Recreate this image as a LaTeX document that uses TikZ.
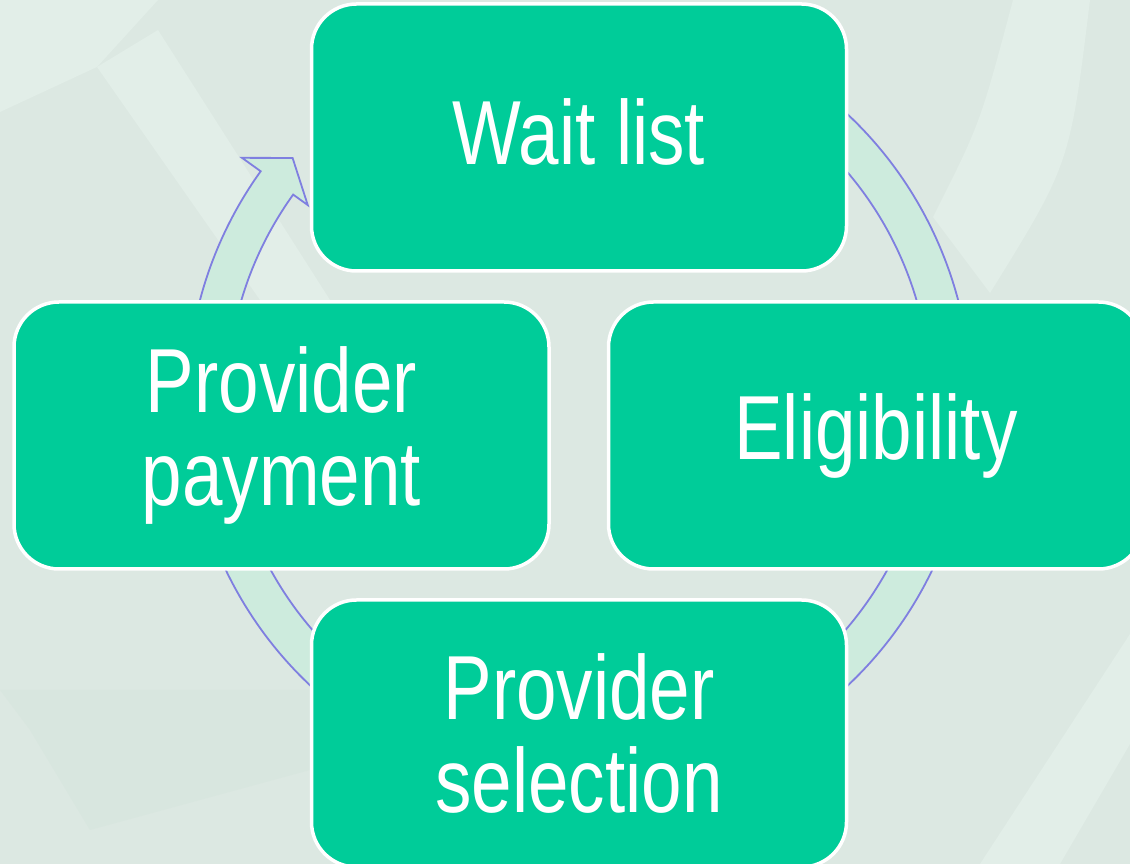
\documentclass[tikz,border=0pt]{standalone}
\usepackage{fontspec}
\setmainfont[FakeStretch=0.8]{Liberation Sans}
\usepackage{tikz}

\definecolor{backdrop}{HTML}{DCE8E2}
\definecolor{backlight}{HTML}{E2EEE8}
\definecolor{backdark}{HTML}{D8E6DF}
\definecolor{stagegreen}{HTML}{00CC99}
\definecolor{ringfill}{HTML}{CDEBDD}
\definecolor{ringline}{HTML}{7F7FE0}

\begin{document}
\begin{tikzpicture}[x=1pt, y=1pt,
	stage/.style={rectangle, rounded corners=45pt, fill=stagegreen, draw=white, line width=3.5pt, minimum width=535pt, minimum height=267pt, text=white, align=center, inner sep=0pt, font=\fontsize{91}{93}\selectfont},
	ring/.style={fill=ringfill, draw=ringline, line width=1.8pt, line join=miter}]
			\useasboundingbox (0,0) rectangle (1130,864);
			\clip (0,0) rectangle (1130,864);
			\fill[backdrop] (0,0) rectangle (1130,864);
			
			% faint backdrop pattern
			\fill[backlight] (0,864) -- (158,864) -- (97,797) -- (0,752) -- cycle;
			\fill[backlight] (97,797) -- (158,834) -- (330,564) -- (260,564) -- cycle;
			\fill[backlight] (1013,864) -- (1090,864) .. controls (1070,700) .. (990,571) -- (933,647) .. controls (980,740) .. cycle;
			\fill[backdark] (0,174) -- (310,174) -- (310,94) -- (90,34) -- (30,134) -- cycle;
			\fill[backlight] (980,0) -- (1060,0) -- (1130,120) -- (1130,230) -- cycle;
			
			% cycle arrow behind the stages
			\begin{scope}[shift={(579,464)}]
			\path[ring] (115:392) arc (115:-215.7:392) -- (-215.7:415) -- (-220.2:375) -- (-215.7:334) -- (-215.7:352) arc (-215.7:115:352) -- cycle;
			\end{scope}
			
			\node[stage, text depth=12pt] (wait) at (579,726.5) {Wait list};
			\node[stage] (elig) at (876,428.5) {Eligibility};
			\node[stage] (select) at (579,130.5) {Provider\\selection};
			\node[stage] (pay) at (281.5,428.5) {Provider\\payment};
			\end{tikzpicture}
\end{document}
